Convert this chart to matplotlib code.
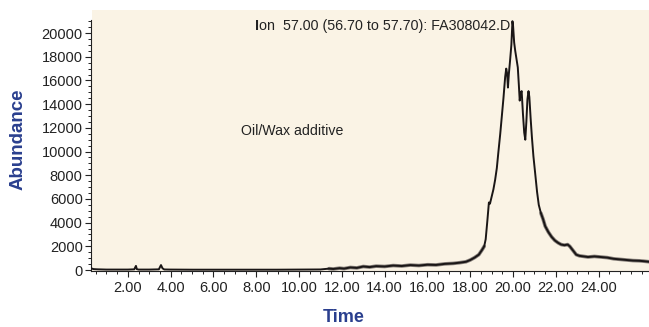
import matplotlib
matplotlib.use("Agg")
import matplotlib.pyplot as plt
import numpy as np
from matplotlib.patches import Rectangle
from matplotlib.ticker import MultipleLocator, FormatStrFormatter

plt.rcParams['font.family'] = ['Liberation Sans', 'DejaVu Sans']

# (time in min, abundance)
time = [0.28, 0.4, 0.6, 1.0, 1.5, 2.0, 2.3, 2.38, 2.42, 2.5, 3.0, 3.45, 3.55, 3.62, 3.7, 4.0,
        5.0, 6.0, 7.0, 8.0, 9.0, 10.0, 11.0, 11.4, 11.6, 11.9, 12.1, 12.4, 12.7, 13.0,
        13.3, 13.6, 14.0, 14.4, 14.8, 15.2, 15.6, 16.0, 16.4, 16.8, 17.2, 17.5, 17.8,
        18.0, 18.2, 18.4, 18.55, 18.65, 18.72, 18.8, 18.87, 18.92, 19.0, 19.08, 19.16,
        19.24, 19.31, 19.4, 19.47, 19.55, 19.63, 19.68, 19.72, 19.76, 19.8, 19.86, 19.92,
        19.97, 20.0, 20.05, 20.1, 20.16, 20.22, 20.27, 20.31, 20.35, 20.4, 20.46, 20.52,
        20.57, 20.62, 20.67, 20.72, 20.76, 20.82, 20.88, 20.95, 21.03, 21.12, 21.2, 21.3,
        21.4, 21.5, 21.65, 21.8, 21.95, 22.1, 22.25, 22.4, 22.55, 22.65, 22.8, 22.95,
        23.1, 23.3, 23.5, 23.8, 24.1, 24.4, 24.7, 25.0, 25.3, 25.6, 25.9, 26.1, 26.35]
abundance = [150, 80, 60, 40, 40, 40, 60, 350, 80, 40, 40, 60, 420, 150, 50, 40,
             30, 30, 30, 30, 30, 40, 50, 120, 90, 160, 120, 220, 180, 300,
             250, 330, 300, 380, 340, 420, 380, 450, 430, 520, 560, 620, 700,
             850, 1050, 1300, 1700, 2000, 2600, 4200, 5700, 5600, 6200, 6800, 7600,
             8600, 9900, 11500, 12900, 14500, 16300, 17000, 16600, 15400, 16500, 17700, 19000,
             21000, 20600, 19200, 18500, 17800, 17100, 15600, 14300, 14900, 15100, 13200, 11600,
             11000, 12500, 14400, 15100, 14600, 12800, 11200, 9600, 8200, 6600, 5500, 4800,
             4300, 3700, 3200, 2800, 2500, 2300, 2150, 2100, 2150, 2000, 1650, 1300,
             1200, 1150, 1100, 1150, 1100, 1050, 950, 900, 850, 800, 780, 750, 700]

x_ticks = [2, 4, 6, 8, 10, 12, 14, 16, 18, 20, 22, 24]
y_ticks = list(range(0, 20001, 2000))

cream = '#FAF3E5'
blue = '#2A3F8E'
ink = '#1a1616'

fig = plt.figure(figsize=(6.49, 3.27), dpi=100)
W, H = 649, 327

# cream panel, a bit larger than the axes
fig.patches.append(Rectangle((92 / W, (H - 271) / H), (649 - 92) / W, (271 - 10) / H,
                             transform=fig.transFigure, facecolor=cream, edgecolor='none', zorder=-1))

ax = fig.add_axes([91 / W, (H - 271) / H, (649 - 91) / W, (271 - 20) / H])
ax.set_facecolor(cream)

t = np.array(time)
a = np.array(abundance)
ax.plot(t, a, color=ink, lw=1.4, zorder=3)
# noisy stretches of the trace look like a thicker, fuzzy band
for lo, hi in [(11.4, 18.7), (21.3, 26.35)]:
    m = (t >= lo) & (t <= hi)
    ax.plot(t[m], a[m], color='#3b3434', lw=2.6, alpha=0.6, solid_capstyle='round', zorder=2)

ax.set_xlim(0.28, 26.35)
ax.set_ylim(-80, 21100)
ax.set_xticks(x_ticks)
ax.set_yticks(y_ticks)
ax.xaxis.set_major_formatter(FormatStrFormatter('%.2f'))
ax.xaxis.set_minor_locator(MultipleLocator(0.5))
ax.yaxis.set_minor_locator(MultipleLocator(500))
ax.tick_params(which='major', direction='out', length=4, width=0.8, labelsize=10.5, colors='#222222')
ax.tick_params(which='minor', direction='out', length=2.5, width=0.7, colors='#222222')
ax.tick_params(axis='x', pad=3)
ax.tick_params(axis='y', pad=2)
for s in ['top', 'right']:
    ax.spines[s].set_visible(False)
for s in ['left', 'bottom']:
    ax.spines[s].set_color('#222222')
    ax.spines[s].set_linewidth(0.8)

fig.text(255 / W, 1 - 26 / H, 'I', fontsize=10.3, fontweight='bold', color='#222222',
         ha='left', va='center')
fig.text(259 / W, 1 - 26 / H, 'on  57.00 (56.70 to 57.70): FA308042.D', fontsize=10.3,
         color='#222222', ha='left', va='center')
fig.text(241 / W, 1 - 131 / H, 'Oil/Wax additive', fontsize=10.2, color='#222222',
         ha='left', va='center')
fig.text(18 / W, 1 - 139 / H, 'Abundance', fontsize=13.5, fontweight='bold', color=blue,
         rotation=90, ha='center', va='center')
fig.text(344 / W, 1 - 318 / H, 'Time', fontsize=13, fontweight='bold', color=blue,
         ha='center', va='center')

fig.savefig('out.png', dpi=100, facecolor='white')
